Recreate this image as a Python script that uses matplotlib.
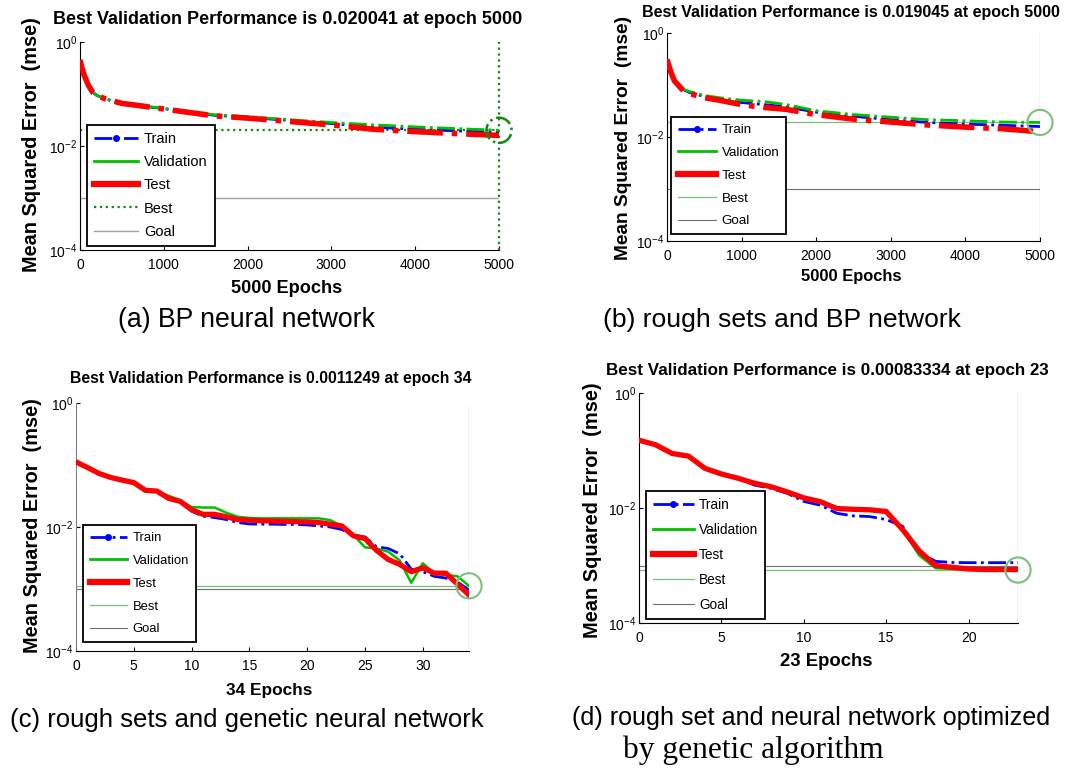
import matplotlib
matplotlib.use('Agg')
import matplotlib.pyplot as plt
from matplotlib.lines import Line2D

plt.rcParams['font.family'] = ['Liberation Sans', 'DejaVu Sans']
plt.rcParams['mathtext.fontset'] = 'custom'
plt.rcParams['mathtext.rm'] = 'Liberation Sans'
plt.rcParams['mathtext.it'] = 'Liberation Sans'

# ---------------- data ----------------
# (a) BP neural network
epochs_a = [0, 20, 50, 100, 150, 200, 300, 400, 500, 700, 1000, 1300, 1600,
            2000, 2500, 3000, 3500, 4000, 4500, 5000]
train_a = [0.45, 0.33, 0.23, 0.147, 0.109, 0.094, 0.081, 0.073, 0.066, 0.060,
           0.052, 0.045, 0.039, 0.0355, 0.031, 0.027, 0.023, 0.021, 0.0195, 0.0182]
val_a = [0.45, 0.33, 0.23, 0.147, 0.109, 0.094, 0.081, 0.073, 0.066, 0.060,
         0.053, 0.046, 0.040, 0.0365, 0.032, 0.0283, 0.0255, 0.0233, 0.0216, 0.020041]
test_a = [0.45, 0.33, 0.23, 0.147, 0.109, 0.094, 0.081, 0.073, 0.066, 0.060,
          0.0515, 0.0443, 0.038, 0.0344, 0.0296, 0.0255, 0.021, 0.0189, 0.0173, 0.016]

# (b) rough sets and BP network
epochs_b = [0, 50, 100, 200, 300, 500, 700, 1000, 1300, 1600, 2000, 2500, 3000,
            3500, 4000, 4500, 5000]
train_b = [0.31, 0.18, 0.12, 0.084, 0.072, 0.060, 0.054, 0.046, 0.042, 0.038,
           0.030, 0.025, 0.0215, 0.019, 0.0177, 0.0168, 0.0159]
val_b = [0.31, 0.18, 0.12, 0.085, 0.075, 0.063, 0.057, 0.051, 0.048, 0.042,
         0.032, 0.027, 0.024, 0.0215, 0.0205, 0.0194, 0.019045]
test_b = [0.31, 0.18, 0.12, 0.083, 0.069, 0.057, 0.051, 0.042, 0.037, 0.034,
          0.027, 0.022, 0.0194, 0.017, 0.0155, 0.0144, 0.0126]

# (c) rough sets and genetic neural network
epochs_c = list(range(35))
train_c = [0.112, 0.090, 0.074, 0.063, 0.057, 0.051, 0.039, 0.036, 0.030, 0.026,
           0.018, 0.0149, 0.0142, 0.0132, 0.0118, 0.0112, 0.0111, 0.0111, 0.0110, 0.0110,
           0.0108, 0.0104, 0.0100, 0.0091, 0.0074, 0.0069, 0.0048, 0.0045, 0.0037, 0.0021,
           0.0019, 0.0016, 0.0015, 0.0013, 0.00096]
val_c = [0.112, 0.091, 0.073, 0.063, 0.057, 0.052, 0.039, 0.037, 0.032, 0.027,
         0.021, 0.0206, 0.0206, 0.017, 0.0146, 0.0140, 0.0138, 0.0138, 0.0138, 0.0138,
         0.0138, 0.0138, 0.0129, 0.0104, 0.0074, 0.0047, 0.0045, 0.0040, 0.0029, 0.00126,
         0.0026, 0.0018, 0.0017, 0.0016, 0.0011249]
test_c = [0.112, 0.091, 0.073, 0.063, 0.057, 0.052, 0.039, 0.038, 0.029, 0.026,
          0.019, 0.016, 0.016, 0.0146, 0.0132, 0.0129, 0.0126, 0.0125, 0.0124, 0.0122,
          0.0121, 0.0118, 0.0111, 0.0104, 0.0072, 0.0065, 0.0042, 0.0030, 0.0025, 0.0019,
          0.0022, 0.0018, 0.0018, 0.0012, 0.00080]

# (d) rough set and neural network optimized by genetic algorithm
epochs_d = list(range(24))
train_d = [0.151, 0.126, 0.089, 0.080, 0.049, 0.039, 0.033, 0.025, 0.022, 0.018,
           0.013, 0.0112, 0.0081, 0.0073, 0.0071, 0.0063, 0.0048, 0.0017, 0.00118, 0.00113,
           0.00112, 0.00112, 0.00112, 0.00112]
val_d = [0.151, 0.126, 0.089, 0.080, 0.049, 0.039, 0.033, 0.027, 0.0235, 0.0195,
         0.0155, 0.0130, 0.0098, 0.0095, 0.0093, 0.0087, 0.0042, 0.0015, 0.00090, 0.00087,
         0.00085, 0.00084, 0.00083, 0.00083334]
test_d = [0.151, 0.126, 0.089, 0.080, 0.049, 0.039, 0.033, 0.027, 0.0235, 0.019,
          0.015, 0.0129, 0.0098, 0.0095, 0.0093, 0.0087, 0.0042, 0.0018, 0.0010, 0.00093,
          0.00087, 0.00085, 0.00085, 0.00085]

best_perf = [0.020041, 0.019045, 0.0011249, 0.00083334]
best_epoch = [5000, 5000, 34, 23]
goal = 0.001
xmax = [5000, 5000, 34, 23]
xticks = [[0, 1000, 2000, 3000, 4000, 5000], [0, 1000, 2000, 3000, 4000, 5000],
          [0, 5, 10, 15, 20, 25, 30], [0, 5, 10, 15, 20]]
yticks = [1e-4, 1e-2, 1e0]
ytick_labels = ['$10^{-4}$', '$10^{-2}$', '$10^{0}$']
titles = ['Best Validation Performance is 0.020041 at epoch 5000',
          'Best Validation Performance is 0.019045 at epoch 5000',
          'Best Validation Performance is 0.0011249 at epoch 34',
          'Best Validation Performance is 0.00083334 at epoch 23']
xlabels = ['5000 Epochs', '5000 Epochs', '34 Epochs', '23 Epochs']
ylabel = 'Mean Squared Error  (mse)'
captions = ['(a) BP neural network', '(b) rough sets and BP network',
            '(c) rough sets and genetic neural network',
            '(d) rough set and neural network optimized']
caption_d2 = 'by genetic algorithm'
legend_labels = ['Train', 'Validation', 'Test', 'Best', 'Goal']

# ---------------- layout (pixels) ----------------
W, H = 1083, 769
fig = plt.figure(figsize=(W / 100, H / 100), dpi=100)

def fr(x0, x1, y0, y1):
    return [x0 / W, 1 - y1 / H, (x1 - x0) / W, (y1 - y0) / H]

ax_px = [(80, 499, 42, 250), (667, 1040, 33, 241), (76, 469, 403, 651), (639, 1018, 393, 623)]
leg_px = [(87, 217, 125, 246), (671, 786, 114, 234), (83, 196, 518, 642), (646, 767, 494, 619)]
title_px = [(288, 19, 465), (851, 12, 414), (271, 379, 400), (827, 370, 440)]
xlabel_px = [(287, 288, 110), (851, 277, 100), (269, 690, 86), (826, 662, 92)]
ylabel_px = [(32, 145, 254), (623, 138, 245), (33, 526, 253), (593, 510, 256)]
caption_px = [(246, 320, 257), (782, 320, 357), (247, 720, 473), (811, 718, 477)]
leg_fs = [10.5, 9.6, 9.4, 9.8]
leg_spacing = [0.63, 0.78, 0.82, 0.82]
leg_hlen = [3.0, 2.9, 2.9, 3.0]

data = [(epochs_a, train_a, val_a, test_a), (epochs_b, train_b, val_b, test_b),
        (epochs_c, train_c, val_c, test_c), (epochs_d, train_d, val_d, test_d)]

BLUE = '#0000ff'
GREEN = '#00c000'
RED = '#ff0000'
LGREEN = '#7cbf7c'
DGREEN = '#108a10'

texts_fit = []
for i in range(4):
    x0, x1, y0, y1 = ax_px[i]
    ax = fig.add_axes(fr(x0, x1, y0, y1))
    ep, tr, va, te = data[i]
    big = i < 2
    ax.plot(ep, tr, color=BLUE, lw=2.0, ls='-.', zorder=3)
    ax.plot(ep, va, color=GREEN, lw=2.0 if big else 1.8, ls='-.' if big else '-', zorder=3)
    ax.plot(ep, te, color=RED, lw=4.0 if big else 3.8, ls='-.' if big else '-', zorder=4)
    if i == 0:
        ax.axhline(best_perf[i], color=DGREEN, lw=1.6, ls=':', zorder=2)
        ax.axhline(goal, color='#a0a0a0', lw=1.0, zorder=2)
        ax.axvline(best_epoch[i], color=DGREEN, lw=1.6, ls=':', zorder=2, clip_on=False)
        ax.scatter([best_epoch[i]], [best_perf[i]], s=330, facecolors='none',
                   edgecolors=DGREEN, linewidths=1.8, linestyle='-.', zorder=5, clip_on=False)
        best_handle = Line2D([], [], color=DGREEN, lw=1.6, ls=':')
        goal_handle = Line2D([], [], color='#a0a0a0', lw=1.0)
    else:
        ax.axhline(best_perf[i], color=LGREEN, lw=0.9, zorder=2)
        ax.axhline(goal, color='#707070', lw=0.8, zorder=2)
        ax.axvline(best_epoch[i], color=LGREEN, lw=0.9, zorder=2)
        ax.scatter([best_epoch[i]], [best_perf[i]], s=330, facecolors='none',
                   edgecolors=LGREEN, linewidths=1.5, zorder=5, clip_on=False)
        best_handle = Line2D([], [], color=LGREEN, lw=0.9)
        goal_handle = Line2D([], [], color='#707070', lw=0.8)

    ax.set_yscale('log')
    ax.set_ylim(1e-4, 1)
    ax.set_xlim(0, xmax[i])
    ax.set_xticks(xticks[i])
    ax.set_yticks(yticks)
    ax.set_yticklabels(ytick_labels)
    ax.minorticks_off()
    ax.tick_params(direction='in', length=3, width=0.8, labelsize=10, top=False, right=False)
    ax.tick_params(axis='x', pad=6)
    ax.tick_params(axis='y', pad=2)
    for s in ('top', 'right'):
        ax.spines[s].set_visible(False)
    if i == 2:
        ax.spines['left'].set_color('#808080')

    handles = [Line2D([], [], color=BLUE, lw=2.0, ls='-.', marker='.', markersize=8),
               Line2D([], [], color=GREEN, lw=2.0),
               Line2D([], [], color=RED, lw=4.5),
               best_handle, goal_handle]
    lx0, lx1, ly0, ly1 = leg_px[i]
    leg = ax.legend(handles, legend_labels, loc='lower left',
                    bbox_to_anchor=((lx0 - x0) / (x1 - x0), (y1 - ly1) / (y1 - y0)),
                    borderaxespad=0, fontsize=leg_fs[i], handlelength=leg_hlen[i],
                    handletextpad=0.4, labelspacing=leg_spacing[i], borderpad=0.5,
                    numpoints=1, fancybox=False, framealpha=1, edgecolor='black')
    leg.get_frame().set_linewidth(1.3)
    leg.set_zorder(10)

    tx, ty, tw = title_px[i]
    t = fig.text(tx / W, 1 - ty / H, titles[i], ha='center', va='center',
                 fontsize=12, fontweight='bold')
    texts_fit.append((t, tw, 'w'))
    tx, ty, tw = xlabel_px[i]
    t = fig.text(tx / W, 1 - ty / H, xlabels[i], ha='center', va='center',
                 fontsize=12, fontweight='bold')
    texts_fit.append((t, tw, 'w'))
    tx, ty, th = ylabel_px[i]
    t = fig.text(tx / W, 1 - ty / H, ylabel, ha='center', va='center', rotation=90,
                 fontsize=12, fontweight='bold')
    texts_fit.append((t, th, 'h'))
    tx, ty, tw = caption_px[i]
    t = fig.text(tx / W, 1 - ty / H, captions[i], ha='center', va='center', fontsize=18)
    texts_fit.append((t, tw, 'w'))

t = fig.text(753 / W, 1 - 750 / H, caption_d2, ha='center', va='center', fontsize=20,
             family=['Liberation Serif', 'DejaVu Serif'])
texts_fit.append((t, 261, 'w'))

fig.canvas.draw()
renderer = fig.canvas.get_renderer()
for t, target, mode in texts_fit:
    bb = t.get_window_extent(renderer)
    cur = bb.width if mode == 'w' else bb.height
    if cur > 0:
        t.set_fontsize(t.get_fontsize() * target / cur)

fig.savefig('out.png', dpi=100, facecolor='white')
